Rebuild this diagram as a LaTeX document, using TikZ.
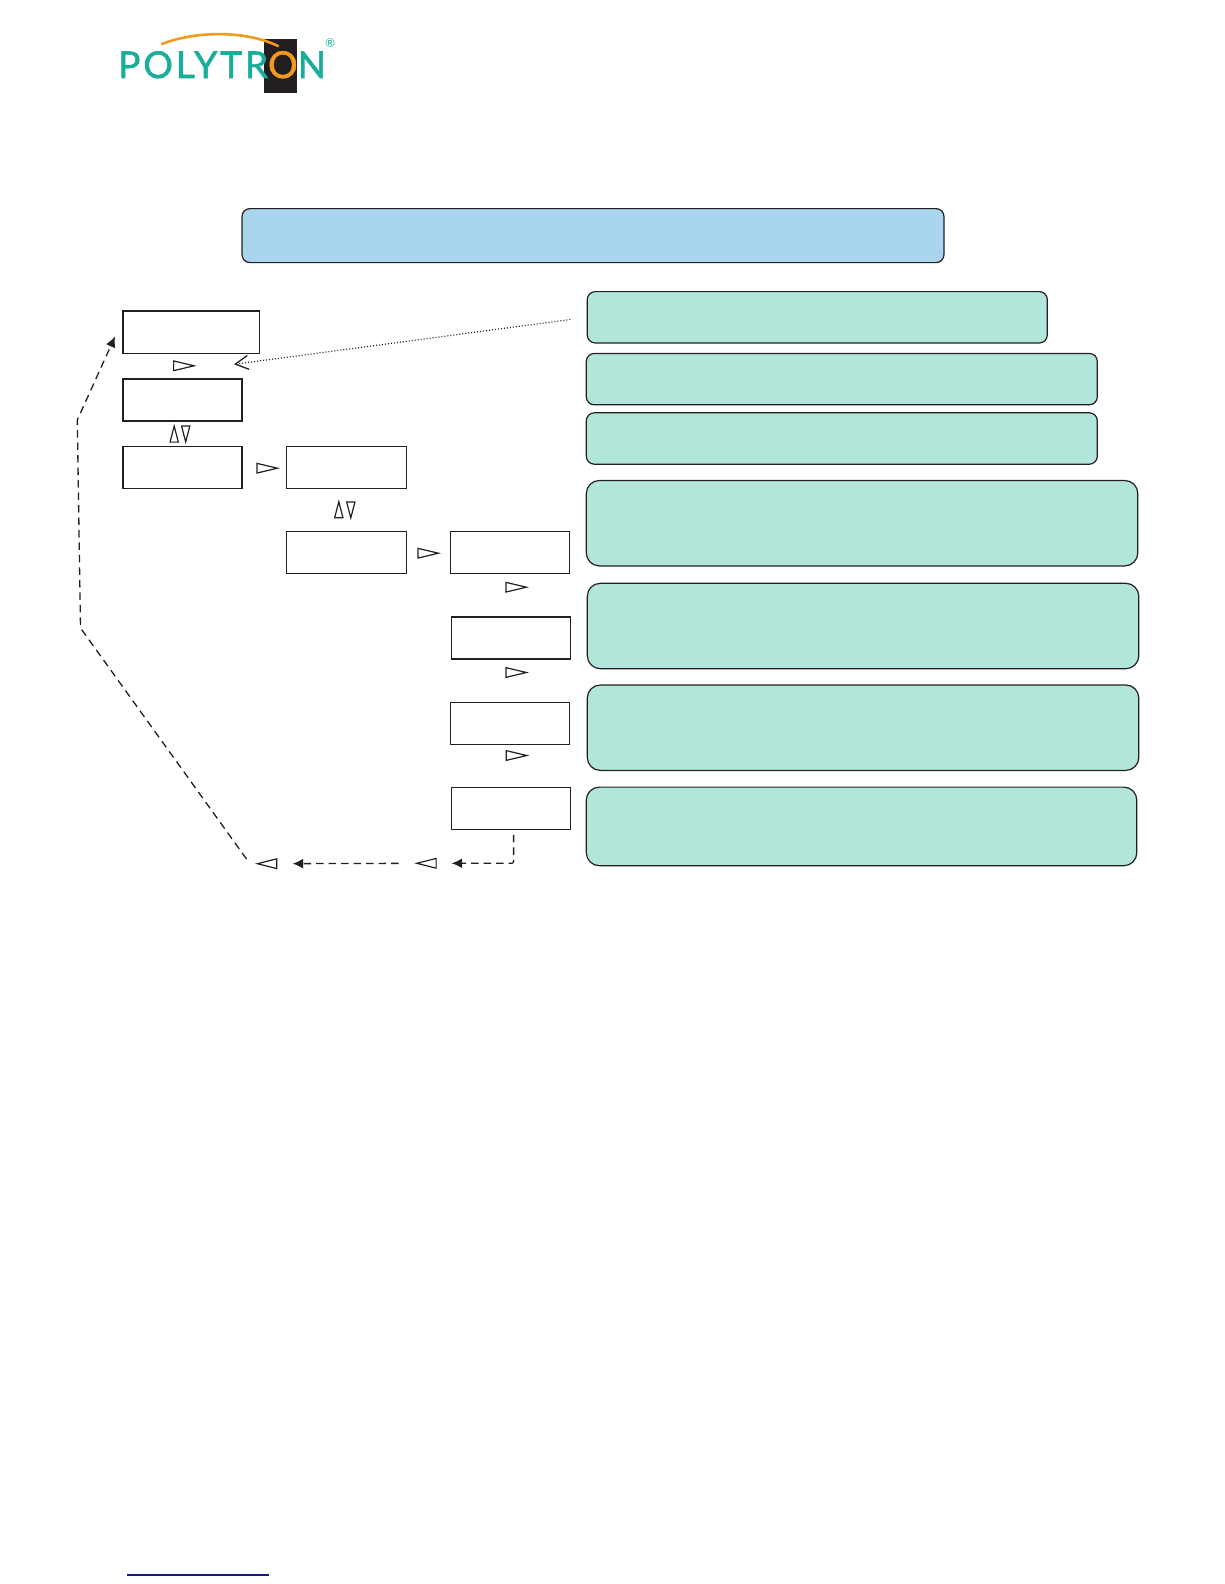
\documentclass[tikz,border=0pt]{standalone}
\usepackage{fontspec}
\setmainfont{Lato}
\usetikzlibrary{arrows.meta,positioning,shapes.geometric}

\definecolor{logoteal}{HTML}{1AAE9A}
\definecolor{logoorange}{HTML}{F39A1E}
\definecolor{logoblack}{HTML}{231F20}
\definecolor{headblue}{HTML}{A9D6EE}
\definecolor{infogreen}{HTML}{B2E6DB}
\definecolor{linkblue}{HTML}{14148C}

\begin{document}
\begin{tikzpicture}[
  x=1pt, y=-1pt,
  display/.style={draw=logoblack, line width=1.2pt, minimum width=119pt, minimum height=42pt,
                  inner sep=0pt},
  info/.style={draw=logoblack, line width=1.2pt, fill=infogreen, rounded corners=8pt,
               inner sep=0pt, minimum width=511pt, minimum height=51.4pt},
  infotall/.style={info, rounded corners=13pt, minimum width=551.5pt, minimum height=85.4pt},
  keyright/.style={draw=logoblack, line width=1.2pt, isosceles triangle, isosceles triangle stretches,
                   inner sep=0pt, minimum width=9.7pt, minimum height=20.5pt, anchor=lower side},
  keyleft/.style={keyright, shape border rotate=180, minimum height=19.3pt},
  keyup/.style={keyright, shape border rotate=90, minimum width=8.3pt, minimum height=16pt},
  keydown/.style={keyright, shape border rotate=-90, minimum width=8.3pt, minimum height=16pt},
  backline/.style={-{Latex[length=10.5pt,width=10pt]}, draw=logoblack, line width=1.3pt,
                   dash pattern=on 7.5pt off 5pt},
  hintline/.style={-{Straight Barb[length=13pt,width=14pt,line width=1.3pt]}, draw=logoblack,
                   line width=1.2pt, dash pattern=on 1pt off 2pt}
]
% logo
\fill[logoblack] (263.7,39) rectangle (297,92.7);
\node[anchor=base west, inner sep=0pt, text=logoteal,
      font=\fontsize{37}{37}\selectfont\addfontfeature{LetterSpace=7.8,FakeBold=1.5}] (brand) at (118,78)
  {POLYTR\textcolor{logoorange}{O}N};
\draw[logoorange, line width=2.6pt, line cap=round] (162,44) .. controls (195,31) and (245,30) .. (278,46);
\node[inner sep=0pt, text=logoteal, font=\fontsize{12}{12}\selectfont] (mark) at (330,43) {®};

% header and notes
\node[info, fill=headblue, minimum width=702pt, minimum height=54pt, anchor=north west] (head) at (241.4,208) {};
\node[info, minimum width=460pt, anchor=north west] (noteA) at (586.7,291) {};
\node[info, below=9.2pt of noteA.south west, anchor=north west, xshift=-1pt] (noteB) {};
\node[info, below=6.8pt of noteB.south west, anchor=north west] (noteC) {};
\node[infotall, below=15.1pt of noteC.south west, anchor=north west] (noteD) {};
\node[infotall, below=16.2pt of noteD.south west, anchor=north west, xshift=1pt] (noteE) {};
\node[infotall, below=15.1pt of noteE.south west, anchor=north west] (noteF) {};
\node[infotall, minimum width=550.5pt, minimum height=78.6pt, below=15.5pt of noteF.south west, anchor=north west, xshift=-1pt] (noteG) {};

% display boxes
\node[display, minimum width=136.4pt, minimum height=42.7pt, anchor=north west] (dispMain) at (122.3,310.3) {};
\node[display, below=24.1pt of dispMain.south west, anchor=north west] (dispNext) {};
\node[display, below=24.5pt of dispNext.south west, anchor=north west] (dispSel) {};
\node[display, minimum width=120pt, right=43pt of dispSel] (dispSub) {};
\node[display, minimum width=120pt, below=41.8pt of dispSub] (dispVal) {};
\node[display, right=43.5pt of dispVal] (dispA) {};
\node[display, below=42.2pt of dispA.south west, anchor=north west, xshift=1pt] (dispB) {};
\node[display, below=42.2pt of dispB.south west, anchor=north west, xshift=-1pt] (dispC) {};
\node[display, below=42.2pt of dispC.south west, anchor=north west, xshift=1pt] (dispD) {};

% keys
\node[keyright] (keyA) at (173,365.8) {};
\node[keyup] (keyB) at (174.2,442.7) {};
\node[keydown] (keyC) at (185.7,425.3) {};
\node[keyright] (keyD) at (256.3,468.2) {};
\node[keyup] (keyE) at (338.8,518.3) {};
\node[keydown] (keyF) at (350.8,501.3) {};
\node[keyright] (keyG) at (417.3,553.2) {};
\node[keyright] (keyH) at (505.3,587.2) {};
\node[keyright] (keyI) at (505.3,672.5) {};
\node[keyright] (keyJ) at (505.7,755.5) {};
\node[keyleft] (keyK) at (436.7,863.3) {};
\node[keyleft] (keyL) at (277.3,863.7) {};

\coordinate (hintEnd) at (570.3,319.5);
\coordinate (hintTip) at (234,364.3);
\coordinate (bendLow) at (80.5,628);
\coordinate (bendHigh) at (77.3,420);

\draw[hintline] (hintEnd) -- (hintTip);
\draw[backline, rounded corners=2pt, shorten <=4.4pt, shorten >=15pt] ([xshift=2.3pt]dispD.south) |- (keyK.lower side);
\draw[backline, shorten <=16.6pt, shorten >=15.4pt] (keyK.apex) -- (keyL.lower side);
\draw[backline] ([shift={(-9.3,-4.7)}]keyL.apex) -- (bendLow) -- (bendHigh) -- ([shift={(-7.3,4.35)}]dispMain.west);

% link underline
\draw[linkblue, line width=1.2pt] (127,1575) -- (269,1575);
\useasboundingbox (0,0) rectangle (1224,1584);
\end{tikzpicture}
\end{document}
